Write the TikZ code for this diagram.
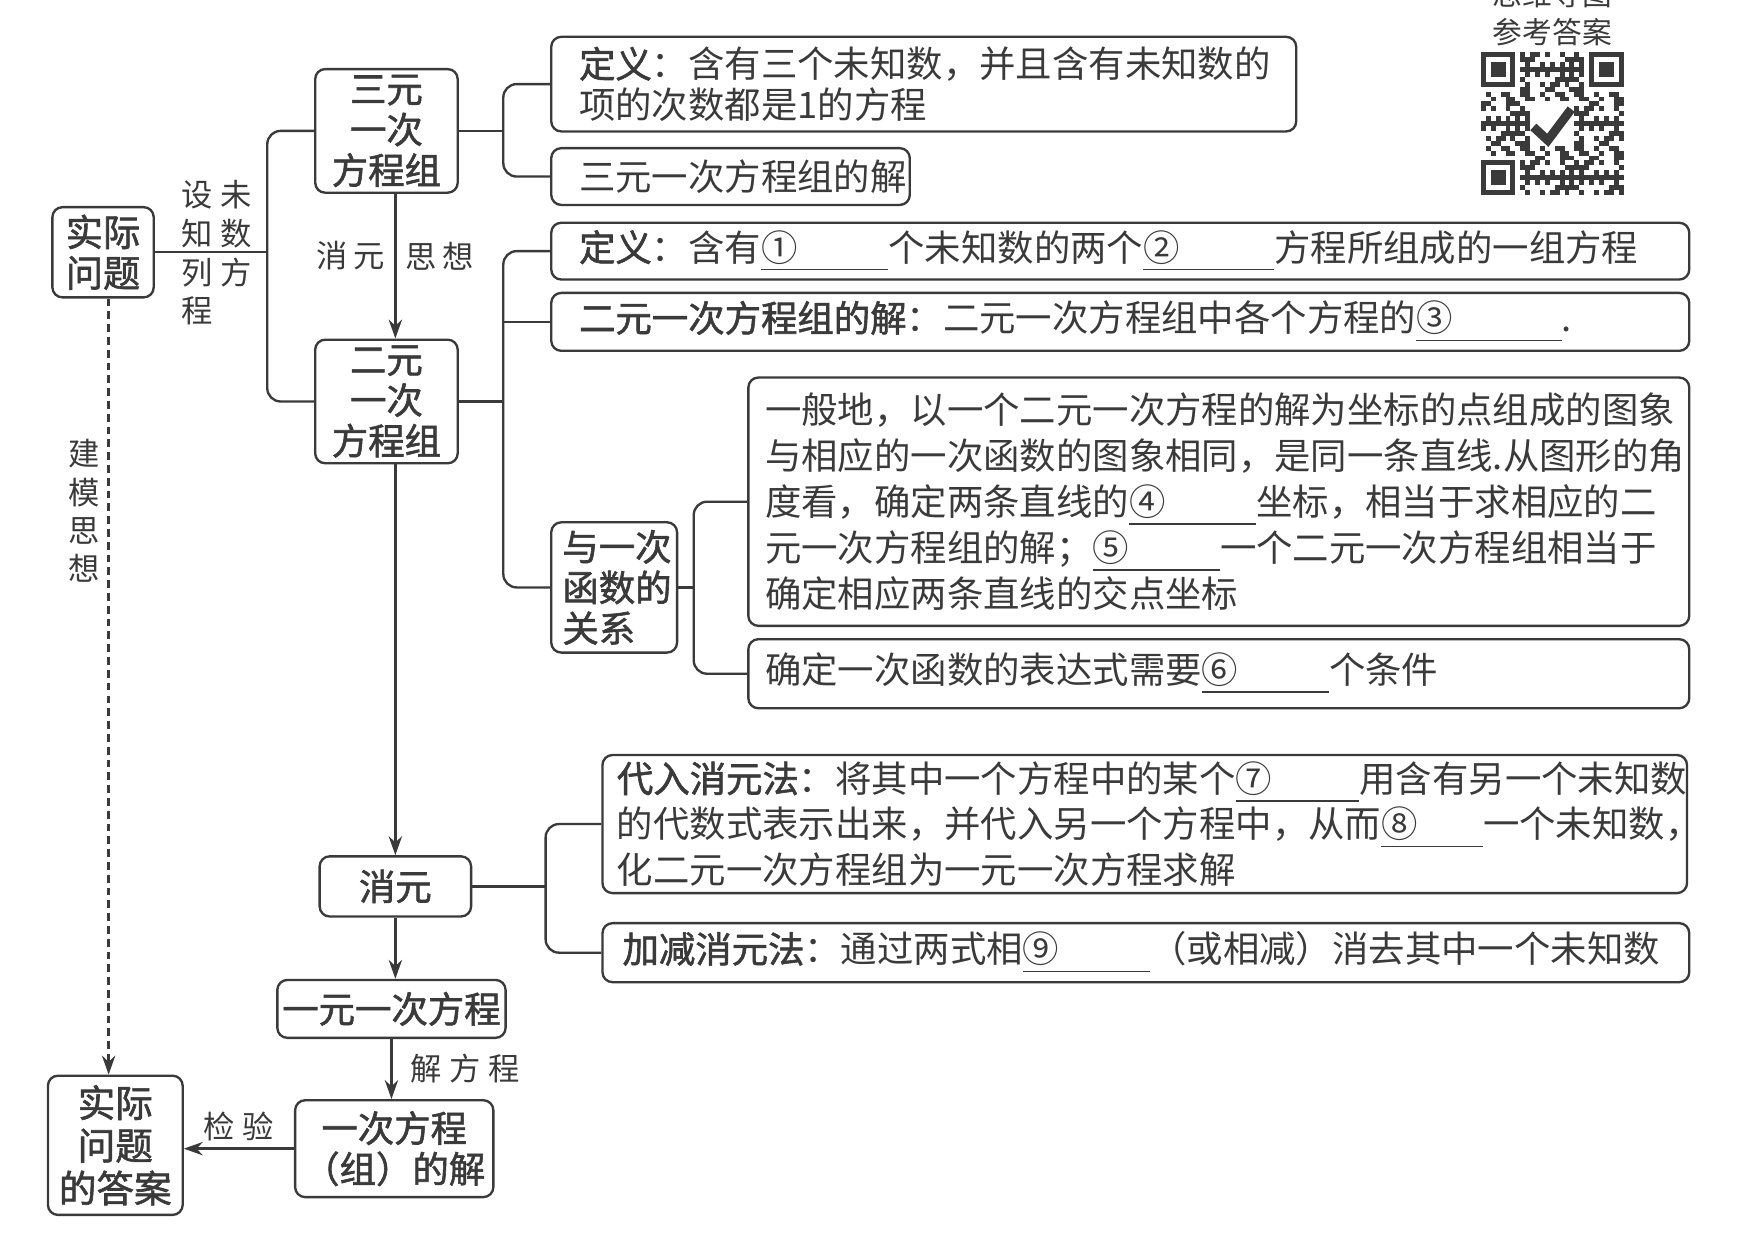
\documentclass[tikz,border=0pt]{standalone}
\usepackage{fontspec}
\newfontfamily\cjk{Noto Sans CJK SC}[BoldFont={Noto Sans CJK SC}, BoldFeatures={FakeBold=1.6}]
\usetikzlibrary{arrows.meta, positioning, calc}
\definecolor{ink}{HTML}{3A3A3A}
\newcommand\blank[2]{\underline{#1\hspace{#2}}}
\tikzset{
  every node/.style={text=ink},
  box/.style={draw=ink, line width=0.6pt, rounded corners=0.9mm, inner sep=0pt, anchor=north west,
    font=\cjk\fontsize{9.3}{10.4}\selectfont},
  head/.style={box, align=center, font=\cjk\bfseries\fontsize{9.3}{10.4}\selectfont},
  info/.style={box, align=left, inner xsep=2.5mm},
  link/.style={draw=ink, line width=0.6pt, rounded corners=1.2mm},
  flow/.style={draw=ink, line width=0.6pt, -{Stealth[length=1.7mm,width=1.2mm]}},
  note/.style={font=\cjk\fontsize{8}{9.8}\selectfont, inner sep=0pt},
}
\begin{document}
\begin{tikzpicture}[x=0.1mm, y=-0.1mm]
\useasboundingbox (0,0) rectangle (1568,1108);

\node[head, font=\cjk\bfseries\fontsize{9.5}{10.4}\selectfont, minimum width=9.1mm, minimum height=8.1mm] (shiji) at (46,185) {实际\\问题};
\node[head, minimum width=12.8mm, minimum height=11.1mm] (sanyuan) at (282,61) {三元\\一次\\方程组};
\node[head, minimum width=12.8mm, minimum height=11.1mm] (eryuan) at (282,304) {二元\\一次\\方程组};

\node[info, minimum width=66.9mm, text width=61.9mm, minimum height=8.5mm] (def3) at (494,32)
  {\textbf{定义}：含有三个未知数，并且含有未知数的\\项的次数都是1的方程};
\node[info, minimum width=32.2mm, text width=27.2mm, minimum height=5.1mm] (sol3) at (494,132) {三元一次方程组的解};

\node[info, minimum width=102.2mm, text width=97.2mm, minimum height=5.1mm] (def2) at (494,199)
  {\textbf{定义}：含有\blank{①}{2.5em}个未知数的两个\blank{②}{2.6em}方程所组成的一组方程};
\node[info, minimum width=102.2mm, text width=97.2mm, minimum height=5.2mm] (sol2) at (494,262)
  {\textbf{二元一次方程组的解}：二元一次方程组中各个方程的\blank{③}{3em}.};
\node[head, align=left, inner xsep=1mm, text width=9.3mm, minimum height=11.7mm] (rel) at (494,468) {与一次\\函数的\\关系};

\node[info, inner xsep=1.5mm, minimum width=84.5mm, text width=81.5mm, minimum height=22.3mm,
  font=\cjk\fontsize{9.3}{11.7}\selectfont] (graph) at (671,338)
  {一般地，以一个二元一次方程的解为坐标的点组成的图象\\
   与相应的一次函数的图象相同，是同一条直线.从图形的角\\
   度看，确定两条直线的\blank{④}{2.5em}坐标，相当于求相应的二\\
   元一次方程组的解；\blank{⑤}{2.5em}一个二元一次方程组相当于\\
   确定相应两条直线的交点坐标};
\node[info, inner xsep=1.5mm, minimum width=84.5mm, text width=81.5mm, minimum height=6.2mm] (cond) at (671,573)
  {确定一次函数的表达式需要\blank{⑥}{2.5em}个条件};

\node[head, minimum width=13.6mm, minimum height=5.4mm] (xiaoyuan) at (286,768) {消元};
\node[info, inner xsep=1.3mm, minimum width=97.4mm, text width=94.8mm, minimum height=12.4mm] (dairu) at (540,677)
  {\textbf{代入消元法}：将其中一个方程中的某个\blank{⑦}{2.4em}用含有另一个未知数\\
   的代数式表示出来，并代入另一个方程中，从而\blank{⑧}{1.8em}一个未知数，\\
   化二元一次方程组为一元一次方程求解};
\node[info, inner xsep=1.8mm, minimum width=97.6mm, text width=94mm, minimum height=5.3mm] (jiajian) at (540,828)
  {\textbf{加减消元法}：通过两式相\blank{⑨}{2.5em}（或相减）消去其中一个未知数};

\node[head, minimum width=20.5mm, minimum height=5.2mm] (yiyuan) at (248,879) {一元一次方程};
\node[head, minimum width=17.8mm, minimum height=8.7mm] (jie) at (264,987) {一次方程\\（组）的解};
\node[head, font=\cjk\bfseries\fontsize{9.6}{10.9}\selectfont, minimum width=12.1mm, minimum height=12.5mm] (answer) at (42,965) {实际\\问题\\的答案};

\coordinate (j0) at (240,225.5);
\coordinate (j3) at (452,116.5);
\coordinate (j2) at (452,359.5);
\coordinate (jr) at (623,526.5);
\coordinate (jx) at (490,795);

\draw[link] (shiji.east) -- node[note, above=0.3mm, xshift=0.5mm, align=left] {设\kern2pt 未\\知\kern2pt 数}
  node[note, below=0.4mm, xshift=0.5mm, align=left] {列\kern2pt 方\\程} (shiji.east -| j0);
\draw[link] (sanyuan.west) -| (j0) |- (eryuan.west);
\draw[link] (sanyuan.east) -- (sanyuan.east -| j3);
\draw[link] (def3.west) -| (j3) |- (sol3.west);
\draw[link] (eryuan.east) -- (eryuan.east -| j2);
\draw[link] (def2.west) -| (j2) |- (rel.west);
\draw[link] (sol2.west) -- (sol2.west -| j2);
\draw[link] (rel.east) -- (rel.east -| jr);
\draw[link] (graph.west) -| (jr) |- (cond.west);
\draw[link] (xiaoyuan.east) -- (xiaoyuan.east -| jx);
\draw[link] (dairu.west) -| (jx) |- (jiajian.west);

\draw[flow] (sanyuan.south -| xiaoyuan.north) -- node[note, pos=0.43, left=0.8mm] {消\kern1.5pt 元}
  node[note, pos=0.43, right=0.8mm] {思\kern1.5pt 想} (eryuan.north -| xiaoyuan.north);
\draw[flow] (eryuan.south -| xiaoyuan.north) -- (xiaoyuan.north);
\draw[flow] (xiaoyuan.south) -- (xiaoyuan.south |- yiyuan.north);
\draw[flow] (yiyuan.south) -- node[note, right=1.6mm] {解\kern2pt 方\kern2pt 程} (yiyuan.south |- jie.north);
\draw[flow] (jie.west) -- node[note, above=0.6mm] {检\kern2pt 验} (jie.west -| answer.east);
\draw[flow, dash pattern=on 0.7mm off 0.45mm] ([xshift=0.5mm]shiji.south) -- node[note, pos=0.274, left=0.7mm, align=center] {建\\模\\思\\想}
  ([xshift=0.5mm]shiji.south |- answer.north);

\node[note, font=\cjk\fontsize{7.6}{9}\selectfont] (qrtop) at (1394,-5) {思维导图};
\node[note, font=\cjk\fontsize{7.6}{9}\selectfont] (qrtext) at (1394,29) {参考答案};
\foreach \cx/\cy in {0/0, 22/0, 0/22}{
  \fill[ink] (1330+\cx*4.414,47+\cy*4.414) rectangle ++(30.9,30.9);
  \fill[white] (1330+\cx*4.414+4.414,47+\cy*4.414+4.414) rectangle ++(22.07,22.07);
  \fill[ink] (1330+\cx*4.414+8.828,47+\cy*4.414+8.828) rectangle ++(13.24,13.24);
}
\foreach \i in {0,...,28}{
  \foreach \j in {0,...,28}{
    \pgfmathtruncatemacro\qrskip{((\i<8)&&(\j<8))||((\i>20)&&(\j<8))||((\i<8)&&(\j>20))||((\i>9)&&(\i<19)&&(\j>9)&&(\j<19))}
    \pgfmathtruncatemacro\qrbit{mod(\i*7+\j*13+\i*\j*5+\j*\j*3,11)}
    \ifnum\qrskip=0 \ifnum\qrbit<5 \fill[ink] (1330+\i*4.414,47+\j*4.414) rectangle ++(4.414,4.414); \fi\fi
  }
}
\draw[ink, line width=0.8mm] (1377,114) -- (1390,126) -- (1411,98);
\end{tikzpicture}
\end{document}
